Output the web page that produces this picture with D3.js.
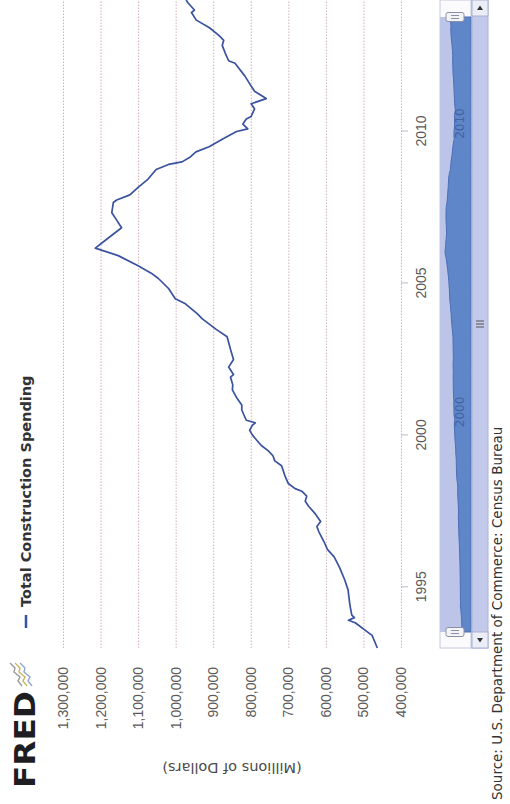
<!DOCTYPE html>
<html>
<head>
<meta charset="utf-8">
<script src="https://cdn.jsdelivr.net/npm/d3@7"></script>
<style>
  body { margin: 0; background: #fff; }
  svg { display: block; font-family: "DejaVu Sans", Verdana, sans-serif; }
</style>
</head>
<body>
<svg id="chart" width="510" height="804"></svg>
<script>
const DATES = [
  "1993-01", "1993-06", "1993-08", "1993-10", "1993-11", "1993-12", "1994-01", "1994-02", "1994-06", "1994-12",
  "1995-04", "1995-09", "1996-01", "1996-04", "1996-07", "1996-11", "1997-01", "1997-03", "1997-06", "1997-09",
  "1997-11", "1998-01", "1998-03", "1998-04", "1998-06", "1998-09", "1999-01", "1999-03", "1999-05", "1999-07",
  "1999-09", "2000-01", "2000-03", "2000-05", "2000-06", "2000-07", "2000-11", "2001-01", "2001-04", "2001-07",
  "2001-09", "2001-12", "2002-01", "2002-04", "2002-07", "2002-11", "2003-04", "2003-07", "2003-11", "2004-01",
  "2004-05", "2004-07", "2004-11", "2005-03", "2005-05", "2005-08", "2005-12", "2006-03", "2006-06", "2006-11",
  "2007-02", "2007-05", "2007-09", "2007-10", "2007-12", "2008-03", "2008-06", "2008-10", "2008-12", "2009-01",
  "2009-03", "2009-05", "2009-07", "2009-10", "2010-01", "2010-02", "2010-04", "2010-06", "2010-07", "2010-10",
  "2010-12", "2011-02", "2011-05", "2011-07", "2011-11", "2012-04", "2012-05", "2012-08", "2012-11", "2013-01",
  "2013-03", "2013-06", "2013-09", "2013-12", "2014-01", "2014-04", "2014-05"
];
const VALUES = [
  463000, 477000, 495000, 513000, 522000, 540000, 524000, 531000, 536000, 541000,
  550000, 564000, 578000, 596000, 605000, 619000, 624000, 614000, 628000, 646000,
  655000, 651000, 664000, 682000, 700000, 709000, 718000, 736000, 741000, 754000,
  772000, 795000, 803000, 796000, 788000, 812000, 824000, 824000, 838000, 849000,
  848000, 854000, 846000, 859000, 846000, 854000, 863000, 893000, 929000, 942000,
  974000, 1001000, 1019000, 1046000, 1064000, 1100000, 1153000, 1214000, 1188000, 1144000,
  1157000, 1170000, 1166000, 1157000, 1122000, 1100000, 1075000, 1052000, 1019000, 983000,
  961000, 946000, 911000, 876000, 838000, 808000, 821000, 812000, 799000, 790000,
  799000, 759000, 790000, 799000, 816000, 842000, 859000, 868000, 876000, 872000,
  885000, 910000, 945000, 958000, 950000, 968000, 972000
];
const VALUE_TICKS = [400000, 500000, 600000, 700000, 800000, 900000, 1000000, 1100000, 1200000, 1300000];
const YEAR_TICKS = [1995, 2000, 2005, 2010];
const NAV_YEARS = [2000, 2010];
const SERIES_NAME = "Total Construction Spending";
const AXIS_TITLE = "(Millions of Dollars)";
const SOURCE = "Source: U.S. Department of Commerce: Census Bureau";

const lineColor = "#3a52a0";
const parse = d3.timeParse("%Y-%m");
const data = DATES.map((d, i) => ({ date: parse(d), value: VALUES[i] }));

const svg = d3.select("#chart");
// the photographed page lies on its side: draw the chart upright, then turn it
const chart = svg.append("g").attr("transform", "translate(0,804) rotate(-90)");

const plot = { left: 156, right: 804, top: 63, bottom: 401 };

const x = d3.scaleTime()
  .domain(d3.extent(data, (d) => d.date))
  .range([plot.left, plot.right]);

const y = d3.scaleLinear()
  .domain([d3.min(VALUE_TICKS), d3.max(VALUE_TICKS)])
  .range([plot.bottom, plot.top]);

// value axis with dotted grid
const yAxis = d3.axisLeft(y)
  .tickValues(VALUE_TICKS)
  .tickFormat(d3.format(","))
  .tickSizeInner(-(plot.right - plot.left + 20))
  .tickSizeOuter(0)
  .tickPadding(19);

const yAxisG = chart.append("g")
  .attr("transform", `translate(${plot.left},0)`)
  .call(yAxis);
yAxisG.select(".domain").remove();
yAxisG.selectAll(".tick line")
  .attr("stroke", "#d6aeb8")
  .attr("stroke-dasharray", "1.5,1.5");
yAxisG.selectAll(".tick text")
  .attr("fill", "#5a5a5a")
  .style("font-size", "14px");

// time axis
const xAxis = d3.axisBottom(x)
  .tickValues(YEAR_TICKS.map((yr) => new Date(yr, 0, 1)))
  .tickFormat(d3.timeFormat("%Y"))
  .tickSizeInner(7)
  .tickSizeOuter(0)
  .tickPadding(8);

const xAxisG = chart.append("g")
  .attr("transform", `translate(0,${plot.bottom})`)
  .call(xAxis);
xAxisG.select(".domain").remove();
xAxisG.selectAll(".tick line").attr("stroke", "#b4bbd2");
xAxisG.selectAll(".tick text")
  .attr("fill", "#5a5a5a")
  .style("font-size", "14px");

// series
const line = d3.line()
  .x((d) => x(d.date))
  .y((d) => y(d.value));

chart.append("path")
  .datum(data)
  .attr("d", line)
  .attr("fill", "none")
  .attr("stroke", lineColor)
  .attr("stroke-width", 1.7)
  .attr("stroke-linejoin", "round");

// axis title
chart.append("text")
  .attr("transform", `translate(41,${(plot.top + plot.bottom) / 2}) rotate(-90)`)
  .attr("text-anchor", "middle")
  .attr("fill", "#4a4a4a")
  .style("font-size", "14.5px")
  .text(AXIS_TITLE);

// logo
chart.append("text")
  .attr("x", 16)
  .attr("y", 35)
  .attr("textLength", 97)
  .attr("lengthAdjust", "spacingAndGlyphs")
  .attr("fill", "#1e1e22")
  .style("font-size", "29px")
  .style("font-weight", "bold")
  .text("FRED");

const squiggle = [
  { color: "#8fa6cf", dy: 0 },
  { color: "#c9b75a", dy: 5 },
  { color: "#9a9a9a", dy: 10 }
];
chart.selectAll(".squiggle")
  .data(squiggle)
  .enter()
  .append("path")
  .attr("d", (s) => `M118,${32 - s.dy} l5,-4 l4,2 l5,-6 l4,1 l5,-5`)
  .attr("fill", "none")
  .attr("stroke", (s) => s.color)
  .attr("stroke-width", 1.4);

// legend
chart.append("line")
  .attr("x1", 176).attr("x2", 189)
  .attr("y1", 26).attr("y2", 26)
  .attr("stroke", lineColor)
  .attr("stroke-width", 2.5);

chart.append("text")
  .attr("x", 197)
  .attr("y", 31)
  .attr("fill", "#333")
  .style("font-size", "14.5px")
  .style("font-weight", "bold")
  .text(SERIES_NAME);

// source
chart.append("text")
  .attr("x", 4)
  .attr("y", 502)
  .attr("fill", "#333")
  .style("font-size", "13.5px")
  .text(SOURCE);

// navigator
const nav = { left: 172, right: 787, top: 440, bottom: 471 };
const scroll = { left: 156, right: 804, top: 472, bottom: 488 };

const navX = d3.scaleTime()
  .domain(x.domain())
  .range([nav.left, nav.right]);
const navY = d3.scaleLinear()
  .domain(d3.extent(data, (d) => d.value))
  .range([462, 445]);

chart.append("rect")
  .attr("x", scroll.left).attr("y", nav.top)
  .attr("width", scroll.right - scroll.left).attr("height", nav.bottom - nav.top)
  .attr("fill", "#fbfbfd")
  .attr("stroke", "#c4c9de");

chart.append("rect")
  .attr("x", nav.left).attr("y", nav.top)
  .attr("width", nav.right - nav.left).attr("height", nav.bottom - nav.top)
  .attr("fill", "#bcc5e8");

const navArea = d3.area()
  .x((d) => navX(d.date))
  .y0(nav.bottom)
  .y1((d) => navY(d.value));

chart.append("path")
  .datum(data)
  .attr("d", navArea)
  .attr("fill", "#5f86c9")
  .attr("stroke", "#4b6fb6")
  .attr("stroke-width", 1);

chart.selectAll(".navlabel")
  .data(NAV_YEARS)
  .enter()
  .append("text")
  .attr("x", (yr) => navX(new Date(yr, 0, 1)) + 3)
  .attr("y", 464)
  .attr("fill", "#3c5593")
  .attr("opacity", 0.75)
  .style("font-size", "12px")
  .text((yr) => yr);

// scrollbar
chart.append("rect")
  .attr("x", scroll.left).attr("y", scroll.top)
  .attr("width", scroll.right - scroll.left).attr("height", scroll.bottom - scroll.top)
  .attr("fill", "#c3c9ea")
  .attr("stroke", "#a9b0d2");

const buttons = [
  { x: scroll.left, dir: -1 },
  { x: scroll.right - 16, dir: 1 }
];
chart.selectAll(".scrollbtn")
  .data(buttons)
  .enter()
  .append("rect")
  .attr("x", (b) => b.x).attr("y", scroll.top)
  .attr("width", 16).attr("height", scroll.bottom - scroll.top)
  .attr("fill", "#eceef7")
  .attr("stroke", "#a9b0d2");

chart.selectAll(".scrollarrow")
  .data(buttons)
  .enter()
  .append("path")
  .attr("d", (b) => {
    const cx = b.x + 8, cy = (scroll.top + scroll.bottom) / 2;
    return `M${cx + 2.5 * b.dir},${cy} L${cx - 2 * b.dir},${cy - 3} L${cx - 2 * b.dir},${cy + 3} Z`;
  })
  .attr("fill", "#333");

const gripX = (scroll.left + scroll.right) / 2;
chart.selectAll(".grip")
  .data([-3, 0, 3])
  .enter()
  .append("line")
  .attr("x1", (d) => gripX + d).attr("x2", (d) => gripX + d)
  .attr("y1", 476).attr("y2", 484)
  .attr("stroke", "#555")
  .attr("stroke-width", 1);

// navigator handles
const handles = chart.selectAll(".handle")
  .data([nav.left, nav.right])
  .enter()
  .append("g")
  .attr("transform", (h) => `translate(${h},0)`);

handles.append("rect")
  .attr("x", -4.5).attr("y", 446)
  .attr("width", 9).attr("height", 18)
  .attr("rx", 2)
  .attr("fill", "#f4f4f6")
  .attr("stroke", "#8a90a8");

handles.selectAll("line")
  .data([-1.5, 1.5])
  .enter()
  .append("line")
  .attr("x1", (d) => d).attr("x2", (d) => d)
  .attr("y1", 451).attr("y2", 459)
  .attr("stroke", "#8a90a8");
</script>
</body>
</html>
